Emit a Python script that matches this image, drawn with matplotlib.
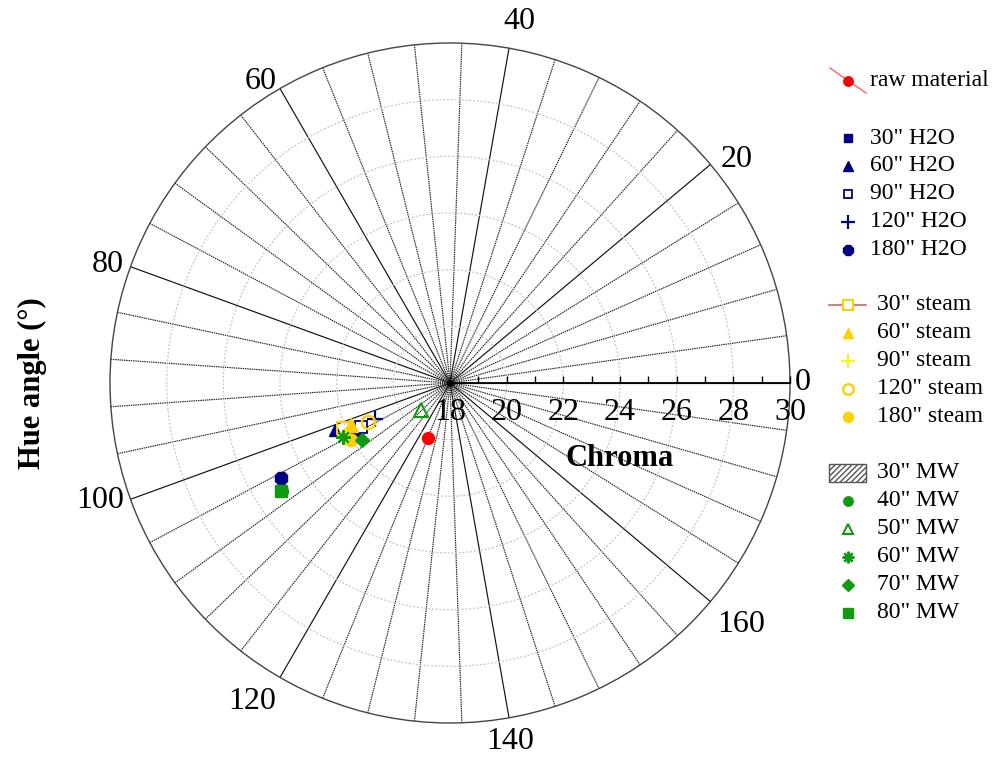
import numpy as np
import matplotlib
matplotlib.use('Agg')
import matplotlib.pyplot as plt
from matplotlib.patches import Rectangle

plt.rcParams['font.family'] = ['Liberation Serif', 'DejaVu Serif']

# ---------------- data ----------------
sample_labels = ['raw material',
                 '30" H2O', '60" H2O', '90" H2O', '120" H2O', '180" H2O',
                 '30" steam', '60" steam', '90" steam', '120" steam', '180" steam',
                 '40" MW', '50" MW', '60" MW', '70" MW', '80" MW']
hue_angle = [124.3,
             103.4, 101.2, 103.2, 102.8, 104.6,
             101.5, 101.5, 103.4, 102.7, 105.0,
             106.3, 111.3, 103.5, 106.4, 106.3]
chroma = [20.10,
          21.68, 22.39, 21.50, 20.94, 24.85,
          22.09, 21.80, 22.15, 21.19, 22.03,
          25.05, 19.41, 22.23, 21.71, 25.09]
group = [0, 1, 1, 1, 1, 1, 2, 2, 2, 2, 2, 3, 3, 3, 3, 3]
hatched_label = '30" MW'

hue_tick_values = [0, 20, 40, 60, 80, 100, 120, 140, 160]
hue_minor_step = 4
chroma_tick_values = [18, 20, 22, 24, 26, 28, 30]
chroma_minor_values = [19, 21, 23, 25, 27, 29]

# ---------------- styles ----------------
NAVY = '#000080'
GOLD = '#FFD000'
LYEL = '#FFF020'
GREEN = '#109A10'
RED = '#FF0000'
marker_style = {
    'raw material': dict(marker='o', color=RED, mfc=RED, ms=8.5),
    '30" H2O': dict(marker='s', color=NAVY, mfc=NAVY, ms=8),
    '60" H2O': dict(marker='^', color=NAVY, mfc=NAVY, ms=8.5),
    '90" H2O': dict(marker='s', color=NAVY, mfc='white', ms=8, mew=1.3),
    '120" H2O': dict(marker='+', color=NAVY, ms=12, mew=1.6),
    '180" H2O': dict(marker='8', color=NAVY, mfc=NAVY, ms=9.5),
    '30" steam': dict(marker='s', color=GOLD, mfc='none', ms=8.5, mew=1.5),
    '60" steam': dict(marker='^', color=GOLD, mfc=GOLD, ms=9.5),
    '90" steam': dict(marker='+', color=LYEL, ms=12, mew=1.6),
    '120" steam': dict(marker='o', color=GOLD, mfc='none', ms=9.5, mew=1.7),
    '180" steam': dict(marker='o', color=GOLD, mfc=GOLD, ms=9),
    '40" MW': dict(marker='o', color=GREEN, mfc=GREEN, ms=8.5),
    '50" MW': dict(marker='^', color=GREEN, mfc='none', ms=9.5, mew=1.5),
    '60" MW': dict(marker=(8, 2, 0), color=GREEN, ms=10.5, mew=1.6),
    '70" MW': dict(marker='D', color=GREEN, mfc=GREEN, ms=7.5),
    '80" MW': dict(marker='s', color=GREEN, mfc=GREEN, ms=9),
}

W_PX, H_PX = 1008, 758
CX, CY, RAD = 450, 383, 340
fig = plt.figure(figsize=(W_PX / 100, H_PX / 100), dpi=100)
ax = fig.add_axes([(CX - RAD) / W_PX, (H_PX - CY - RAD) / H_PX,
                   2 * RAD / W_PX, 2 * RAD / H_PX], projection='polar')

rmin, rmax = chroma_tick_values[0], chroma_tick_values[-1]
ax.set_rlim(rmin, rmax)

def to_theta(h):
    return np.deg2rad(2.0 * np.asarray(h, dtype=float))

# grid
ax.set_xticks(to_theta(hue_tick_values))
ax.set_xticklabels([])
ax.set_xticks(to_theta(np.arange(0, 180, hue_minor_step)), minor=True)
ax.set_yticks(chroma_tick_values[1:-1])
ax.set_yticklabels([])
ax.tick_params(axis='both', which='both', length=0)
ax.xaxis.grid(True, which='major', color='#111111', lw=0.85, ls='-')
ax.xaxis.grid(True, which='minor', color='#222222', lw=0.85, ls=(0, (1.2, 0.7)))
ax.yaxis.grid(True, which='major', color='#c4c4c4', lw=0.9, ls=(0, (1.5, 1.5)))
ax.spines['polar'].set_color('#444444')
ax.spines['polar'].set_linewidth(1.0)

# radial axis line along hue 0
ax.plot([0, 0], [rmin, rmax], color='black', lw=1.3, zorder=3, clip_on=False)
ax.plot(np.zeros(len(chroma_tick_values) + len(chroma_minor_values)),
        chroma_tick_values + chroma_minor_values, ls='none', marker=2,
        ms=5, mew=1.0, color='black', zorder=3, clip_on=False)
for r in chroma_tick_values:
    ax.annotate(str(r), xy=(0, r), xytext=(0, -10.5), textcoords='offset points',
                ha='center', va='top', fontsize=23)
ax.plot([0], [rmin], 'o', color='black', ms=4, zorder=4)

# angle labels (placed just outside the rim, with small per-label nudges in px)
label_nudge_px = {0: (-2, 0), 20: (6, 12), 40: (7, -6), 60: (-7, 14), 80: (1, 7),
                  100: (1, -10), 120: (-14, -1), 140: (-3, 2), 160: (6, 2)}
px_per_unit = RAD / (rmax - rmin)
for h in hue_tick_values:
    th = to_theta(h)
    s = str(h)
    half_w = 8.0 * len(s)
    half_h = 11.0
    dist = RAD + 7 + half_w * abs(np.cos(th)) + half_h * abs(np.sin(th))
    nx, ny = label_nudge_px[h]
    ax.annotate(s, xy=(th, rmin + dist / px_per_unit),
                xytext=(nx * 0.72, -ny * 0.72), textcoords='offset points',
                ha='center', va='center', fontsize=23, annotation_clip=False)

# data points
for lab, h, c in zip(sample_labels, hue_angle, chroma):
    st = marker_style[lab]
    ax.plot(to_theta(h), c, ls='none', zorder=5, clip_on=False, **st)

# axis titles
fig.text(620 / W_PX, 1 - 458 / H_PX, 'Chroma', fontsize=22, fontweight='bold',
         ha='center', va='center')
fig.text(32 / W_PX, 1 - 383 / H_PX, 'Hue angle (°)', fontsize=22,
         fontweight='bold', rotation=90, ha='center', va='center')

# legend (manual, in pixel coordinates)
lax = fig.add_axes([0, 0, 1, 1])
lax.set_xlim(0, W_PX)
lax.set_ylim(H_PX, 0)
lax.axis('off')

group_start = {0: 81, 1: 138, 2: 305, 3: 473}
group_textx = {0: 870, 1: 870, 2: 877, 3: 877}
row_step = 27.9
MX = 848

rows = {0: [], 1: [], 2: [], 3: []}
for lab, g in zip(sample_labels, group):
    rows[g].append(lab)
rows[3].insert(0, hatched_label)

for g, labs in rows.items():
    for i, lab in enumerate(labs):
        y = group_start[g] + i * row_step
        if lab == hatched_label:
            lax.add_patch(Rectangle((829, y - 9), 37, 18, facecolor='white',
                                    edgecolor='#555555', hatch='//////', lw=1.0))
        else:
            st = dict(marker_style[lab])
            st['ms'] = st['ms'] * 0.8
            if lab == 'raw material':
                lax.plot([830, 866], [y - 13, y + 12], color='#FF6060', lw=1.0)
            if lab == '30" steam':
                lax.plot([829, 866], [y, y], color='#B87070', lw=1.2)
                st['mfc'] = 'white'
            lax.plot([MX], [y], ls='none', **st)
        lax.text(group_textx[g], y, lab, fontsize=17, ha='left', va='center')

fig.savefig('out.png', dpi=100)
